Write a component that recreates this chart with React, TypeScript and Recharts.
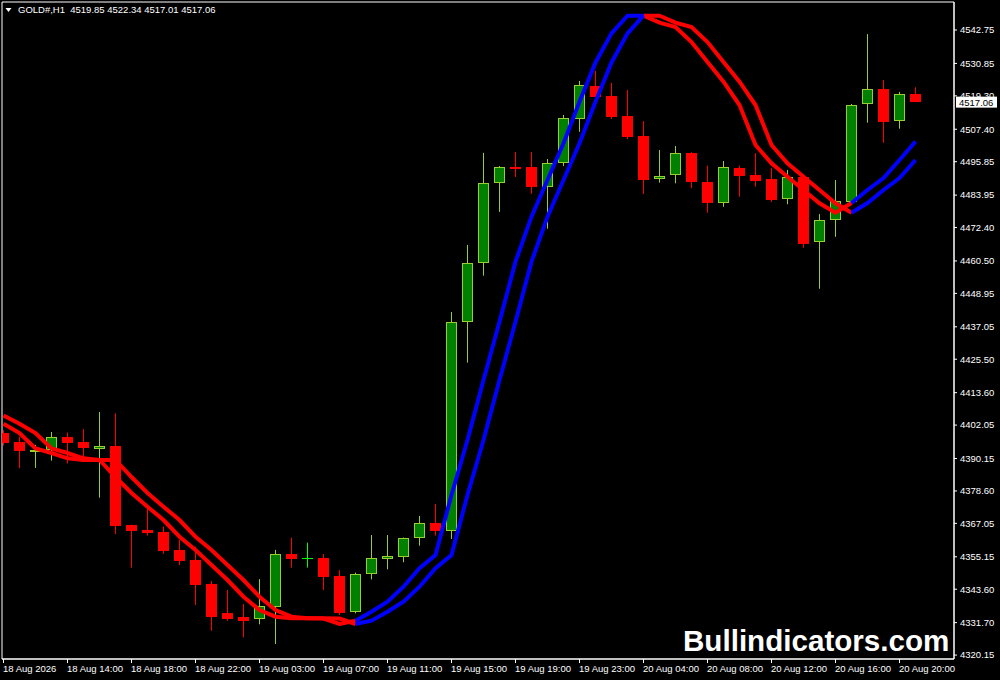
import React from "react";
import {
  ComposedChart,
  XAxis,
  YAxis,
  Bar,
  Line,
  ReferenceArea,
  ReferenceLine,
} from "recharts";

// GOLD#, H1 candles (18 Aug 10:00 -> 20 Aug 21:00)
const opens = [
  4399.1, 4396.0, 4393.0, 4393.2, 4397.7, 4396.0, 4393.65, 4394.6, 4366.5, 4364.7,
  4364.0, 4357.6, 4354.0, 4345.45, 4335.0, 4333.7, 4332.9, 4337.4, 4356.1, 4354.6,
  4354.7, 4348.3, 4335.4, 4348.9, 4354.5, 4355.2, 4361.7, 4367.1, 4364.4, 4438.65,
  4459.7, 4488.15, 4494.1, 4494.0, 4486.95, 4495.3, 4511.2, 4522.8, 4519.25, 4512.1,
  4505.0, 4489.6, 4491.0, 4498.85, 4488.5, 4481.25, 4493.6, 4491.1, 4489.7, 4482.45,
  4490.4, 4467.15, 4475.0, 4481.6, 4516.3, 4521.6, 4510.25, 4519.85,
];
const highs = [
  4400.2, 4397.9, 4395.0, 4399.6, 4399.4, 4400.65, 4406.7, 4406.25, 4366.6, 4372.8,
  4365.9, 4361.1, 4358.75, 4346.5, 4343.3, 4338.3, 4347.2, 4357.6, 4361.95, 4360.2,
  4356.1, 4350.4, 4349.5, 4362.9, 4362.9, 4362.0, 4369.7, 4373.95, 4442.3, 4466.2,
  4499.0, 4494.3, 4499.3, 4499.3, 4496.8, 4512.5, 4524.6, 4528.15, 4523.9, 4521.4,
  4510.3, 4500.0, 4501.45, 4499.2, 4494.4, 4496.1, 4494.4, 4498.85, 4493.5, 4492.9,
  4491.5, 4477.2, 4489.3, 4516.4, 4541.3, 4524.9, 4520.7, 4522.34,
];
const lows = [
  4394.8, 4386.7, 4386.8, 4389.4, 4388.4, 4390.6, 4376.2, 4363.25, 4351.3, 4362.7,
  4356.25, 4352.2, 4338.0, 4328.8, 4332.4, 4326.5, 4331.1, 4324.1, 4351.3, 4351.3,
  4343.3, 4334.4, 4335.0, 4347.1, 4350.7, 4353.2, 4359.1, 4362.7, 4361.5, 4424.3,
  4455.25, 4478.0, 4490.4, 4484.45, 4472.0, 4494.3, 4506.5, 4516.4, 4511.05, 4503.9,
  4484.35, 4488.4, 4488.15, 4486.4, 4477.7, 4479.8, 4483.4, 4486.95, 4481.5, 4480.7,
  4465.2, 4450.6, 4469.1, 4481.4, 4509.75, 4502.6, 4507.6, 4517.01,
];
const closes = [
  4395.6, 4392.9, 4393.3, 4397.7, 4395.8, 4394.0, 4394.6, 4366.2, 4364.4, 4363.7,
  4357.3, 4353.75, 4345.1, 4333.8, 4333.1, 4332.3, 4337.6, 4356.1, 4354.4, 4354.6,
  4348.1, 4335.2, 4349.0, 4354.6, 4355.4, 4361.7, 4367.1, 4364.4, 4438.65, 4459.7,
  4488.15, 4493.85, 4493.25, 4486.85, 4495.3, 4511.3, 4523.2, 4519.0, 4511.9, 4504.65,
  4489.3, 4490.75, 4498.85, 4488.75, 4481.25, 4493.85, 4490.85, 4489.0, 4482.2, 4490.4,
  4466.65, 4475.1, 4481.75, 4516.0, 4521.6, 4510.1, 4519.85, 4517.06,
];

// indicator: fast and slow band lines
const fastLine = [
  4402.54, 4399.23, 4393.71, 4392.11, 4390.22, 4389.62, 4389.62, 4383.56, 4377.86, 4372.99,
  4368.25, 4362.3, 4357.56, 4352.22, 4346.88, 4340.93, 4336.2, 4333.81, 4333.24, 4333.24,
  4333.17, 4331.21, 4332.39, 4335.59, 4339.15, 4344.5, 4351.05, 4355.78, 4377.15, 4396.74,
  4418.11, 4438.87, 4460.24, 4476.26, 4489.33, 4502.4, 4517.22, 4531.18, 4541.57, 4547.84,
  4547.84, 4545.35, 4543.82, 4538.48, 4531.35, 4524.34, 4516.04, 4501.8, 4495.28, 4490.51,
  4485.77, 4481.03, 4477.69, 4481.14, 4485.77, 4490.04, 4496.45, 4503.04,
];
const slowLine = [
  4405.46, 4402.54, 4399.23, 4393.71, 4392.11, 4390.22, 4389.62, 4389.62, 4383.56, 4377.86,
  4372.99, 4368.25, 4362.3, 4357.56, 4352.22, 4346.88, 4340.93, 4336.2, 4333.81, 4333.24,
  4333.24, 4333.17, 4331.21, 4332.39, 4335.59, 4339.15, 4344.5, 4351.05, 4355.78, 4377.15,
  4396.74, 4418.11, 4438.87, 4460.24, 4476.26, 4489.33, 4502.4, 4517.22, 4531.18, 4541.57,
  4547.84, 4547.84, 4545.35, 4543.82, 4538.48, 4531.35, 4524.34, 4516.04, 4501.8, 4495.28,
  4490.51, 4485.77, 4481.03, 4477.69, 4481.14, 4485.77, 4490.04, 4496.45,
];
// bars where the trend colour flips (starts red)
const trendTurns = [22, 40, 53];

const timeLabels = [
  "18 Aug 2026", "18 Aug 14:00", "18 Aug 18:00", "18 Aug 22:00", "19 Aug 03:00",
  "19 Aug 07:00", "19 Aug 11:00", "19 Aug 15:00", "19 Aug 19:00", "19 Aug 23:00",
  "20 Aug 04:00", "20 Aug 08:00", "20 Aug 12:00", "20 Aug 16:00", "20 Aug 20:00",
];
const labelBars = [0, 4, 8, 12, 16, 20, 24, 28, 32, 36, 40, 44, 48, 52, 56];
const priceTicks = [
  4542.75, 4530.85, 4519.3, 4507.4, 4495.85, 4483.95, 4472.4, 4460.5, 4448.95, 4437.05,
  4425.5, 4413.6, 4402.05, 4390.15, 4378.6, 4367.05, 4355.15, 4343.6, 4331.7, 4320.15,
];
const lastPrice = 4517.06;
const headerText = "GOLD#,H1  4519.85 4522.34 4517.01 4517.06";

const xDomain = [-0.09375, 59.40625];
const yDomain = [4318.75, 4552.72];

const FONT = "'Liberation Sans', Arial, sans-serif";
const RED = "#ff0000";
const BLUE = "#0000ff";

const segOf = (i: number) => trendTurns.filter((t) => i >= t).length;
const inSeg = (i: number, up: boolean) => {
  const s = segOf(i);
  if (trendTurns.includes(i)) return true;
  return (s % 2 === 1) === up;
};

const data = opens.map((open, i) => ({
  bar: i,
  open,
  high: highs[i],
  low: lows[i],
  close: closes[i],
  fastRed: inSeg(i, false) ? fastLine[i] : null,
  fastBlue: inSeg(i, true) ? fastLine[i] : null,
  slowRed: inSeg(i, false) ? slowLine[i] : null,
  slowBlue: inSeg(i, true) ? slowLine[i] : null,
}));

const Candle = (props: any) => {
  const { x, y, width, height, payload } = props;
  const { open, close, high, low } = payload;
  const cx = x + width / 2;
  const ppu = height / (high - low);
  const yOf = (v: number) => y + (high - v) * ppu;
  const top = Math.round(yOf(Math.max(open, close)));
  const bot = Math.max(Math.round(yOf(Math.min(open, close))), top + 1);
  if (open === close) {
    return (
      <g>
        <line x1={cx} x2={cx} y1={y} y2={y + height} stroke="#00ff00" />
        <line x1={cx - 5.5} x2={cx + 5.5} y1={top + 0.5} y2={top + 0.5} stroke="#00ff00" />
      </g>
    );
  }
  if (close > open) {
    return (
      <g>
        <line x1={cx} x2={cx} y1={y} y2={y + height} stroke="#9acd32" />
        <rect
          x={cx - 5}
          y={top + 0.5}
          width={10}
          height={Math.max(bot - top - 1, 1)}
          fill="#008000"
          stroke="#9acd32"
        />
      </g>
    );
  }
  return (
    <g>
      <line x1={cx} x2={cx} y1={y} y2={y + height} stroke={RED} />
      <rect x={cx - 5.5} y={top} width={11} height={bot - top} fill={RED} />
    </g>
  );
};

const TimeTick = (props: any) => {
  const { x, y, payload } = props;
  const i = labelBars.indexOf(payload.value);
  return (
    <text x={x - 0.5} y={y} dy="0.71em" fill="#fff" fontSize={9.5} fontFamily={FONT} textAnchor="start">
      {timeLabels[i]}
    </text>
  );
};

const PriceBox = (props: any) => {
  const { viewBox } = props;
  const bx = viewBox.x + viewBox.width + 2;
  const by = viewBox.y;
  return (
    <g>
      <rect x={bx} y={by - 5.5} width={41} height={11} fill="#fff" />
      <text x={bx + 3} y={by} dy="0.355em" fill="#000" fontSize={9.5} fontFamily={FONT}>
        {lastPrice.toFixed(2)}
      </text>
    </g>
  );
};

export default function App() {
  return (
    <div style={{ position: "absolute", left: 0, top: 0, width: 1000, height: 680, background: "#000" }}>
      <ComposedChart width={1000} height={680} data={data} margin={{ top: 2, right: 0, bottom: 0, left: 2 }}>
        <XAxis
          dataKey="bar"
          type="number"
          domain={xDomain}
          allowDataOverflow
          ticks={labelBars}
          interval={0}
          height={21}
          stroke="#fff"
          tickSize={4}
          tickMargin={2.5}
          tick={<TimeTick />}
        />
        <YAxis
          orientation="right"
          type="number"
          domain={yDomain}
          allowDataOverflow
          ticks={priceTicks}
          interval={0}
          width={46}
          stroke="#fff"
          tickSize={3}
          tickMargin={3}
          tick={{ fill: "#fff", fontSize: 9.5, fontFamily: FONT }}
          tickFormatter={(v: number) => v.toFixed(2)}
        />
        <ReferenceArea
          x1={xDomain[0]}
          x2={xDomain[1]}
          y1={yDomain[0]}
          y2={yDomain[1]}
          fill="none"
          stroke="#fff"
          fillOpacity={0}
        />
        <Bar
          dataKey={(d: any) => [d.low, d.high]}
          barSize={12}
          shape={<Candle />}
          isAnimationActive={false}
        />
        <Line dataKey="fastRed" stroke={RED} strokeWidth={4} dot={false} connectNulls={false} isAnimationActive={false} />
        <Line dataKey="slowRed" stroke={RED} strokeWidth={4} dot={false} connectNulls={false} isAnimationActive={false} />
        <Line dataKey="fastBlue" stroke={BLUE} strokeWidth={4} dot={false} connectNulls={false} isAnimationActive={false} />
        <Line dataKey="slowBlue" stroke={BLUE} strokeWidth={4} dot={false} connectNulls={false} isAnimationActive={false} />
        <ReferenceLine y={lastPrice} stroke="none" label={<PriceBox />} />
      </ComposedChart>

      <div
        style={{
          position: "absolute",
          left: 5,
          top: 4,
          height: 12,
          lineHeight: "12px",
          color: "#fff",
          fontFamily: FONT,
          fontSize: 9.5,
          whiteSpace: "pre",
          display: "flex",
          alignItems: "center",
        }}
      >
        <svg width={13} height={12} style={{ display: "block" }}>
          <polygon points="0.5,4 6.5,4 3.5,8" fill="#fff" />
        </svg>
        <span>{headerText}</span>
      </div>

      <div
        style={{
          position: "absolute",
          left: 683,
          top: 626,
          lineHeight: "30px",
          color: "#fff",
          fontFamily: FONT,
          fontWeight: 700,
          fontSize: 29.6,
          whiteSpace: "nowrap",
        }}
      >
        Bullindicators.com
      </div>
    </div>
  );
}
